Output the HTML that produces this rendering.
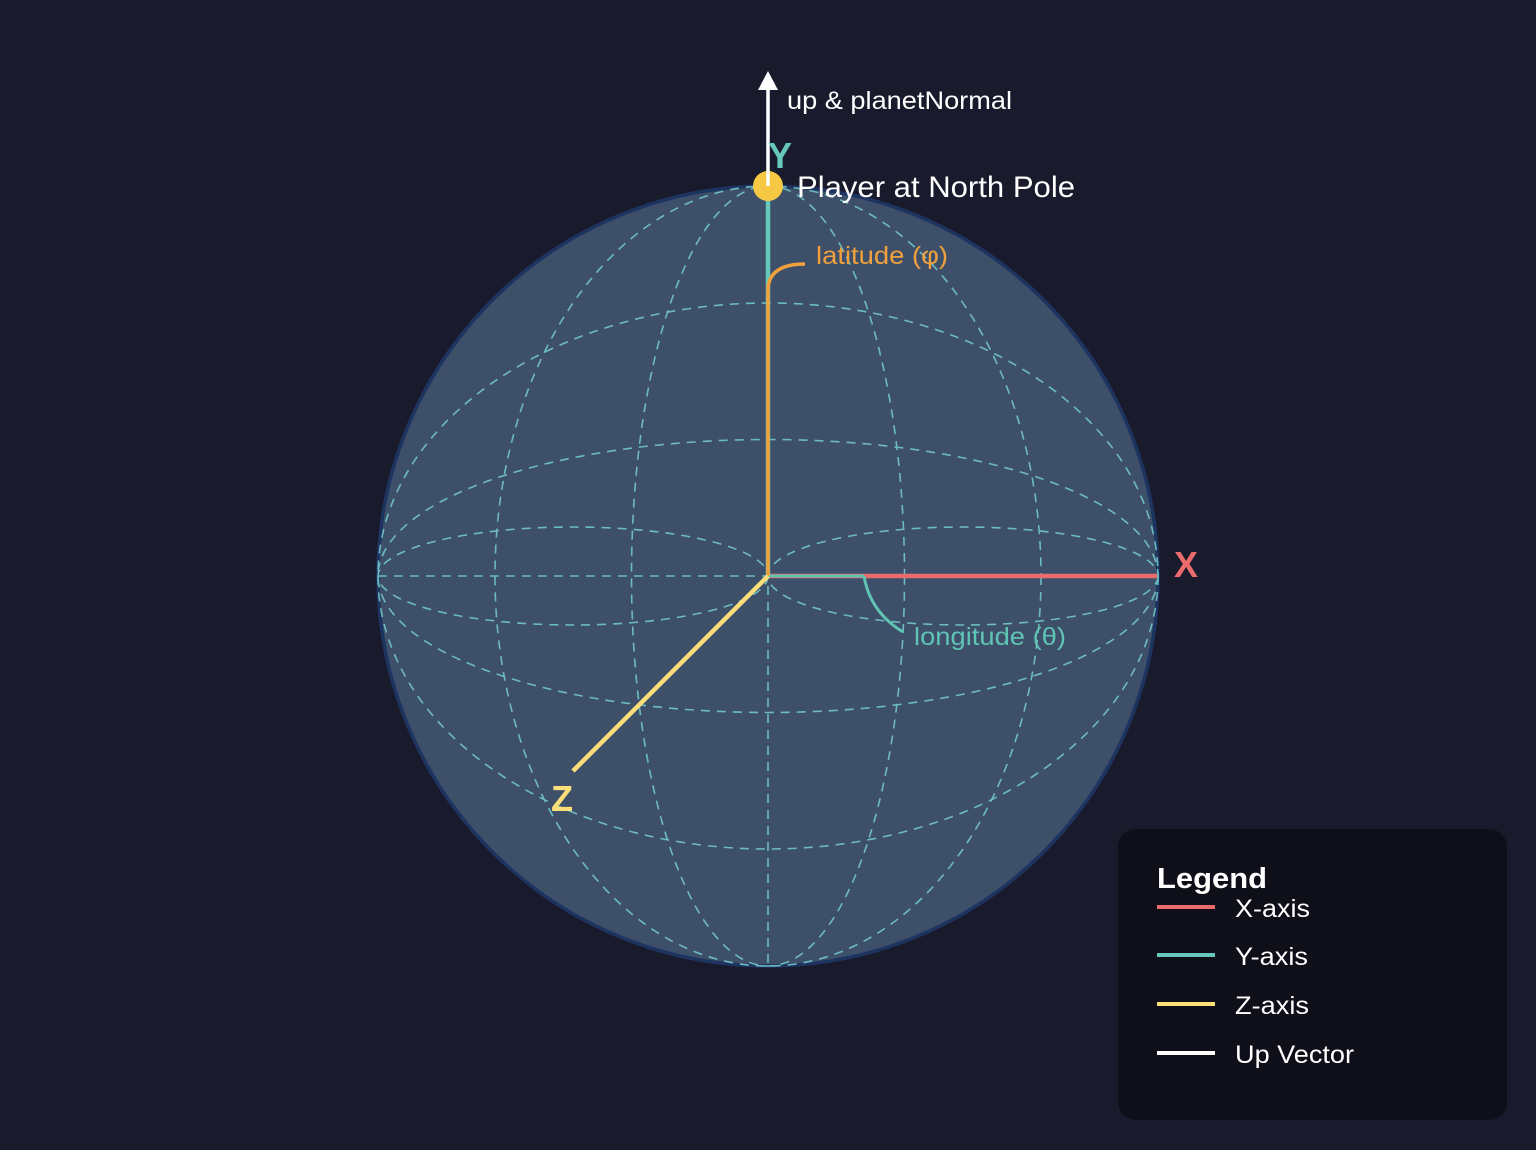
<!DOCTYPE html>
<html><head><meta charset="utf-8"><style>
html,body{margin:0;padding:0;background:#191a2b;}
svg{display:block;font-family:"Liberation Sans",Arial,sans-serif;}
</style></head><body>
<svg id="chart" width="1536" height="1150" viewBox="0 0 1536 1150">
<rect x="0" y="0" width="1536" height="1150" fill="#191a2b"/>
<circle cx="768" cy="576" r="390" fill="#3e4f69" stroke="#1d3461" stroke-width="3.5"/>
<g id="grid" fill="none" stroke="#72c8c8" stroke-width="1.6" stroke-dasharray="9 7" opacity="0.9"></g>
<line x1="768" y1="576" x2="1157" y2="576" stroke="#ea6b6b" stroke-width="4.5"/>
<line x1="768" y1="576" x2="864" y2="576" stroke="#5fc4b4" stroke-width="3"/>
<line x1="768" y1="576" x2="768" y2="190" stroke="#66c7bb" stroke-width="4.5"/>
<path d="M768 576 L768 288 Q770 264 805 264" fill="none" stroke="#f0a03c" stroke-width="3.5"/>
<line x1="768" y1="576" x2="573" y2="771" stroke="#fbe07a" stroke-width="4.5"/>
<path d="M864 576 Q870 612 903 632" fill="none" stroke="#5fc4b4" stroke-width="3"/>
<circle cx="768" cy="186" r="15" fill="#f7c844"/>
<line x1="768" y1="186" x2="768" y2="88" stroke="#ffffff" stroke-width="3.5"/>
<polygon points="768,71 758,90 778,90" fill="#ffffff"/>
<text x="787" y="109" font-size="25" textLength="225" lengthAdjust="spacingAndGlyphs" fill="#ffffff">up &amp; planetNormal</text>
<text x="768" y="168" font-size="36" font-weight="bold" fill="#66c7bb">Y</text>
<text x="797" y="197" font-size="30" textLength="278" lengthAdjust="spacingAndGlyphs" fill="#ffffff">Player at North Pole</text>
<text x="816" y="264" font-size="25" textLength="132" lengthAdjust="spacingAndGlyphs" fill="#f0a03c">latitude (φ)</text>
<text x="914" y="645" font-size="25" textLength="152" lengthAdjust="spacingAndGlyphs" fill="#5fc4b4">longitude (θ)</text>
<text x="1174" y="577" font-size="36" font-weight="bold" fill="#ea6b6b">X</text>
<text x="551" y="811" font-size="36" font-weight="bold" fill="#fbe07a">Z</text>
<g>
<rect x="1118" y="829" width="389" height="291" rx="18" fill="#0e0f19"/>
<text x="1157" y="888" font-size="29" font-weight="bold" textLength="110" lengthAdjust="spacingAndGlyphs" fill="#ffffff">Legend</text>
<line x1="1157" y1="907" x2="1215" y2="907" stroke="#ea6b6b" stroke-width="4"/>
<text x="1235" y="917" font-size="25" textLength="75" lengthAdjust="spacingAndGlyphs" fill="#ffffff">X-axis</text>
<line x1="1157" y1="955" x2="1215" y2="955" stroke="#66c7bb" stroke-width="4"/>
<text x="1235" y="965" font-size="25" textLength="73" lengthAdjust="spacingAndGlyphs" fill="#ffffff">Y-axis</text>
<line x1="1157" y1="1004" x2="1215" y2="1004" stroke="#fbe07a" stroke-width="4"/>
<text x="1235" y="1014" font-size="25" textLength="74" lengthAdjust="spacingAndGlyphs" fill="#ffffff">Z-axis</text>
<line x1="1157" y1="1053" x2="1215" y2="1053" stroke="#ffffff" stroke-width="4"/>
<text x="1235" y="1063" font-size="25" textLength="119" lengthAdjust="spacingAndGlyphs" fill="#ffffff">Up Vector</text>
</g>
</svg>
<script>
const latitudeRatios = [0.35, 0.7];
const longitudeRatios = [0.35, 0.7];
const equatorLobeCenters = [-0.5, 0.5];
const CX = 768, CY = 576, R = 390;
const g = document.getElementById('grid');
const NS = 'http://www.w3.org/2000/svg';
function ell(cx, cy, rx, ry, name) {
  const e = document.createElementNS(NS, 'ellipse');
  e.setAttribute('cx', cx); e.setAttribute('cy', cy);
  e.setAttribute('rx', rx); e.setAttribute('ry', ry);
  
  
  g.appendChild(e);
}
latitudeRatios.forEach(k => ell(CX, CY, R, R * k, 'latitude-ellipse'));
longitudeRatios.forEach(k => ell(CX, CY, R * k, R, 'longitude-ellipse'));
equatorLobeCenters.forEach(c => ell(CX + c * R, CY, R / 2, 49, 'equator-lobe'));
const h = document.createElementNS(NS, 'line');
h.setAttribute('x1', CX - R); h.setAttribute('x2', CX + R); h.setAttribute('y1', CY); h.setAttribute('y2', CY);


g.appendChild(h);
const v = document.createElementNS(NS, 'line');
v.setAttribute('x1', CX); v.setAttribute('x2', CX); v.setAttribute('y1', CY - R); v.setAttribute('y2', CY + R);


g.appendChild(v);
</script>
</body></html>
